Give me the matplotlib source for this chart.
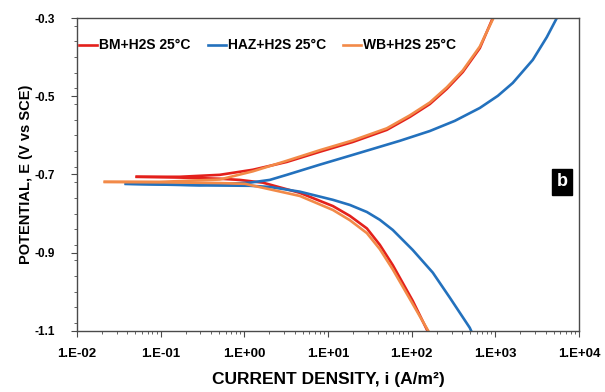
import numpy as np
import matplotlib
matplotlib.use("Agg")
import matplotlib.pyplot as plt
from matplotlib.ticker import FixedLocator, MultipleLocator, FuncFormatter, LogLocator, NullFormatter

plt.rcParams['font.family'] = ['Liberation Sans', 'DejaVu Sans']
plt.rcParams['font.weight'] = 'bold'

# Polarisation curves: current density (A/m2) and potential (V vs SCE)
# anodic and cathodic branches both start from the low-current end (near Ecorr)
bm_anod_i = [0.052, 0.17, 0.51, 1.27, 3.23, 8.0, 19.8, 50.6, 95.1, 165.0, 264.0, 409.0, 653.0, 933.0]
bm_anod_e = [-0.706, -0.706, -0.701, -0.688, -0.668, -0.642, -0.617, -0.586, -0.553, -0.520, -0.481, -0.438, -0.377, -0.300]
bm_cath_i = [0.052, 0.17, 0.51, 0.885, 1.67, 4.61, 11.5, 18.3, 29.2, 41.7, 59.6, 103.0, 158.0]
bm_cath_e = [-0.706, -0.708, -0.711, -0.714, -0.721, -0.747, -0.781, -0.806, -0.838, -0.880, -0.932, -1.023, -1.104]

haz_anod_i = [0.0385, 0.295, 1.17, 2.02, 3.23, 8.0, 19.8, 72.3, 165.0, 328.0, 653.0, 1072.0, 1618.0, 2805.0, 4121.0, 5433.0]
haz_anod_e = [-0.724, -0.727, -0.721, -0.714, -0.701, -0.675, -0.650, -0.614, -0.589, -0.563, -0.530, -0.499, -0.466, -0.407, -0.349, -0.300]
haz_cath_i = [0.0385, 0.295, 1.17, 2.02, 4.61, 11.5, 18.3, 29.2, 41.7, 59.6, 103.0, 179.0, 286.0, 495.0, 525.0]
haz_cath_e = [-0.724, -0.728, -0.729, -0.732, -0.744, -0.765, -0.778, -0.796, -0.816, -0.842, -0.893, -0.951, -1.015, -1.092, -1.104]

wb_anod_i = [0.0216, 0.098, 0.51, 1.27, 3.23, 8.0, 19.8, 50.6, 95.1, 165.0, 264.0, 409.0, 653.0, 950.0]
wb_anod_e = [-0.719, -0.719, -0.713, -0.692, -0.665, -0.638, -0.613, -0.582, -0.549, -0.516, -0.477, -0.434, -0.373, -0.300]
wb_cath_i = [0.0216, 0.098, 0.51, 1.02, 4.61, 11.5, 18.3, 29.2, 41.7, 59.6, 103.0, 162.0]
wb_cath_e = [-0.719, -0.720, -0.722, -0.724, -0.755, -0.791, -0.817, -0.850, -0.891, -0.943, -1.031, -1.104]

x_ticks = [1e-2, 1e-1, 1e0, 1e1, 1e2, 1e3, 1e4]
y_ticks = [-1.1, -0.9, -0.7, -0.5, -0.3]

series = [
    ("BM+H2S 25°C", bm_anod_i, bm_anod_e, bm_cath_i, bm_cath_e, '#E3201B'),
    ("HAZ+H2S 25°C", haz_anod_i, haz_anod_e, haz_cath_i, haz_cath_e, '#2371BD'),
    ("WB+H2S 25°C", wb_anod_i, wb_anod_e, wb_cath_i, wb_cath_e, '#F28A48'),
]

fig = plt.figure(figsize=(6.05, 3.92), dpi=100)
ax = fig.add_axes([0.127, 0.156, 0.83, 0.798])

for nombre, ai, ae, ci, ce, color in series:
    ax.plot(ai, ae, color=color, lw=1.9, label=nombre, solid_joinstyle='round')
    ax.plot(ci, ce, color=color, lw=1.9, solid_joinstyle='round')

ax.set_xscale('log')
ax.set_xlim(1e-2, 1e4)
ax.set_ylim(-1.1, -0.3)

ax.xaxis.set_major_locator(FixedLocator(x_ticks))
ax.xaxis.set_minor_locator(LogLocator(base=10, subs=np.arange(2, 10), numticks=10))
ax.xaxis.set_minor_formatter(NullFormatter())
ax.xaxis.set_major_formatter(FuncFormatter(lambda v, p: "1.E{:+03d}".format(int(round(np.log10(v))))))

ax.yaxis.set_major_locator(FixedLocator(y_ticks))
ax.yaxis.set_minor_locator(MultipleLocator(0.04))
ax.yaxis.set_major_formatter(FuncFormatter(lambda v, p: "{:.1f}".format(v)))

for s in ax.spines.values():
    s.set_color('#4a4a4a')
    s.set_linewidth(1.0)
ax.tick_params(which='major', direction='out', length=4, width=0.8, colors='#4a4a4a',
               labelcolor='black')
ax.tick_params(which='minor', direction='out', length=2, width=0.6, colors='#4a4a4a')
ax.tick_params(axis='x', pad=8, labelsize=9.5)
ax.tick_params(axis='y', pad=12, labelsize=8.5)

ax.set_xlabel("CURRENT DENSITY, i (A/m²)", fontsize=12.5, fontweight='bold', labelpad=9)
ax.set_ylabel("POTENTIAL, E (V vs SCE)", fontsize=10.5, fontweight='bold', labelpad=1)

leg = ax.legend(loc='upper left', bbox_to_anchor=(0.004, 0.935), ncol=3, frameon=False,
                fontsize=10, borderpad=0, borderaxespad=0, handlelength=1.3,
                handletextpad=0.15, columnspacing=1.25)

ax.text(0.966, 0.476, "b", transform=ax.transAxes, ha='center', va='center', color='white',
        fontsize=13, fontweight='bold',
        bbox=dict(boxstyle='square,pad=0.25', facecolor='black', edgecolor='black'))

plt.savefig('out.png', dpi=100)
plt.close()
